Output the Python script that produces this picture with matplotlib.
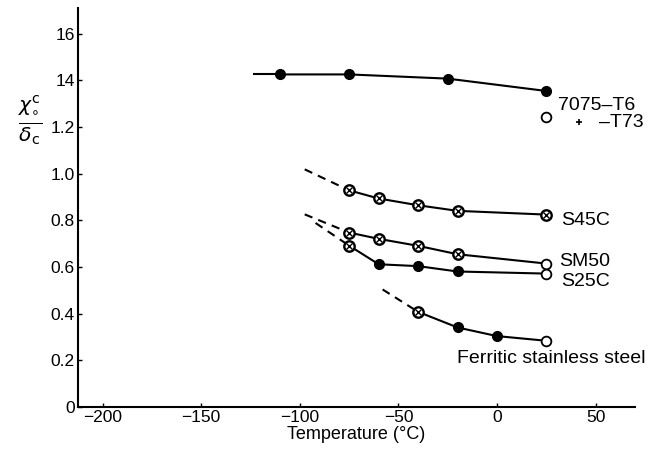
import matplotlib
matplotlib.use("Agg")
import matplotlib.pyplot as plt

plt.rcParams['font.family'] = ['Liberation Sans', 'DejaVu Sans']

# 7075-T6
al_t = [-110, -75, -25, 25]
al_v = [1.426, 1.426, 1.408, 1.355]
al_lead_t = [-123, -110]
al_lead_v = [1.426, 1.426]
t73_t = [25]
t73_v = [1.242]

# S45C
s45c_t = [-75, -60, -40, -20, 25]
s45c_v = [0.929, 0.894, 0.865, 0.841, 0.825]
s45c_dash_t = [-97.5, -75]
s45c_dash_v = [1.019, 0.929]

# SM50
sm50_t = [-75, -60, -40, -20, 25]
sm50_v = [0.748, 0.721, 0.691, 0.655, 0.615]
sm50_dash_t = [-97.5, -75]
sm50_dash_v = [0.826, 0.748]

# S25C
s25c_t = [-75, -60, -40, -20, 25]
s25c_v = [0.692, 0.612, 0.604, 0.581, 0.572]
s25c_dash_t = [-92, -75]
s25c_dash_v = [0.789, 0.692]

# Ferritic stainless steel
fss_t = [-40, -20, 0, 25]
fss_v = [0.408, 0.341, 0.304, 0.284]
fss_dash_t = [-58, -40]
fss_dash_v = [0.504, 0.408]

yticks = [0, 0.2, 0.4, 0.6, 0.8, 1.0, 1.2, 1.4, 1.6]
ytick_labels = ['0', '0.2', '0.4', '0.6', '0.8', '1.0', '1.2', '14', '16']
xticks = [-200, -150, -100, -50, 0, 50]

# marker kind per point: f = filled, x = crossed, o = open
kinds = {
    'al': 'ffff',
    's45c': 'xxxxx',
    'sm50': 'xxxxo',
    's25c': 'xfffo',
    'fss': 'xffo',
}

fig = plt.figure(figsize=(6.66, 4.55), dpi=100)
ax = fig.add_axes([0.1164, 0.1055, 0.8371, 0.8765])

lw = 1.5
ms = 7


def draw_points(t, v, kind):
    for ti, vi, k in zip(t, v, kind):
        if k == 'f':
            ax.plot(ti, vi, 'o', color='black', ms=ms, zorder=3)
        elif k == 'o':
            ax.plot(ti, vi, 'o', mfc='white', mec='black', mew=1.3, ms=ms, zorder=3)
        else:
            ax.plot(ti, vi, 'o', mfc='white', mec='black', mew=1.7, ms=ms + 0.5, zorder=3)
            ax.plot(ti, vi, 'x', color='black', mew=1.0, ms=3.8, zorder=4)


ax.plot(al_lead_t, al_lead_v, '-', color='black', lw=lw)
ax.plot(al_t, al_v, '-', color='black', lw=lw)
draw_points(al_t, al_v, kinds['al'])
draw_points(t73_t, t73_v, 'o')

for t, v, dt, dv, key in [(s45c_t, s45c_v, s45c_dash_t, s45c_dash_v, 's45c'),
                          (sm50_t, sm50_v, sm50_dash_t, sm50_dash_v, 'sm50'),
                          (s25c_t, s25c_v, s25c_dash_t, s25c_dash_v, 's25c'),
                          (fss_t, fss_v, fss_dash_t, fss_dash_v, 'fss')]:
    ax.plot(dt, dv, '--', color='black', lw=lw, dashes=(4, 3))
    ax.plot(t, v, '-', color='black', lw=lw)
    draw_points(t, v, kinds[key])

fs = 14
ax.text(31, 1.293, '7075\u2013T6', fontsize=fs, va='center', ha='left')
ax.plot(41.4, 1.222, '+', color='black', ms=4, mew=1.2)
ax.text(51.5, 1.222, '\u2013T73', fontsize=fs, va='center', ha='left')
ax.text(32.5, 0.80, 'S45C', fontsize=fs, va='center', ha='left')
ax.text(31.6, 0.624, 'SM50', fontsize=fs, va='center', ha='left')
ax.text(32.5, 0.537, 'S25C', fontsize=fs, va='center', ha='left')
ax.text(-20.5, 0.21, 'Ferritic stainless steel', fontsize=fs, va='center', ha='left')

ax.set_xlim(-212.7, 70)
ax.set_ylim(0, 1.71)
ax.set_xticks(xticks)
ax.set_yticks(yticks)
ax.set_yticklabels(ytick_labels)
ax.tick_params(direction='in', length=3, width=1, labelsize=12.5, pad=2)
for s in ['top', 'right']:
    ax.spines[s].set_visible(False)
for s in ['left', 'bottom']:
    ax.spines[s].set_linewidth(1.5)

ax.set_xlabel('Temperature (\u00b0C)', fontsize=13, labelpad=1)

fig.text(0.045, 0.735, r'$\frac{\chi_{\circ}^{\mathrm{c}}}{\delta_{\mathrm{c}}}$',
         fontsize=21, ha='center', va='center')

fig.savefig('out.png', dpi=100)
